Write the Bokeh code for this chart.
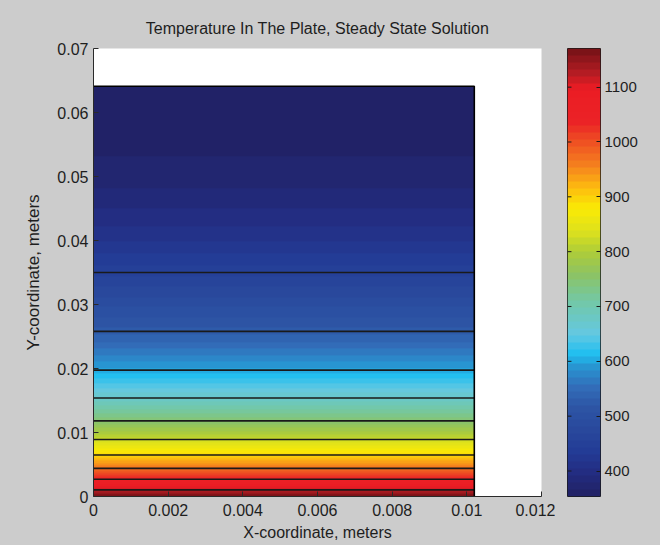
import numpy as np
from bokeh.plotting import figure
from bokeh.models import Range1d, FixedTicker, LinearColorMapper, LinearAxis
from bokeh.layouts import row
from bokeh.embed import file_html
from bokeh.resources import INLINE

# ---------------- data ----------------
TITLE = "Temperature In The Plate, Steady State Solution"
X_LABEL = "X-coordinate, meters"
Y_LABEL = "Y-coordinate, meters"

PLATE_WIDTH = 0.0102
PLATE_HEIGHT = 0.0641

# temperature along the plate height (almost uniform across x)
PROFILE_Y = [0.0, 0.00104, 0.00269, 0.00440, 0.00649, 0.00891, 0.01182,
             0.01540, 0.01975, 0.02580, 0.03500, 0.04100, 0.04640, 0.05120,
             0.06410]
PROFILE_T = [1170, 1120, 1046, 971, 897, 822, 748,
             674, 599, 525, 450, 410, 385, 368,
             356]

CONTOUR_LEVELS = [450, 525, 599, 674, 748, 822, 897, 971, 1046, 1120]

X_TICKS = [0, 0.002, 0.004, 0.006, 0.008, 0.01, 0.012]
X_TICK_LABELS = ["0", "0.002", "0.004", "0.006", "0.008", "0.01", "0.012"]
Y_TICKS = [0, 0.01, 0.02, 0.03, 0.04, 0.05, 0.06, 0.07]
Y_TICK_LABELS = ["0", "0.01", "0.02", "0.03", "0.04", "0.05", "0.06", "0.07"]
CBAR_TICKS = [400, 500, 600, 700, 800, 900, 1000, 1100]
CBAR_LOW = 353.5
CBAR_HIGH = 1170.5

# ---------------- style ----------------
FONT = "Liberation Sans"
TEXT_COLOR = "#1e1e1e"
FIG_BG = "#cccccc"
COLOR_STOPS = [
    (0.000, (33, 32, 98)), (0.055, (35, 45, 130)), (0.100, (35, 60, 150)),
    (0.140, (40, 70, 155)), (0.200, (45, 85, 165)), (0.245, (50, 110, 185)),
    (0.290, (40, 150, 210)), (0.317, (30, 190, 240)), (0.363, (100, 200, 225)),
    (0.437, (115, 200, 165)), (0.495, (140, 195, 100)), (0.547, (175, 205, 55)),
    (0.590, (220, 225, 30)), (0.642, (250, 235, 5)), (0.687, (253, 190, 15)),
    (0.737, (245, 130, 30)), (0.797, (238, 75, 35)), (0.835, (235, 35, 38)),
    (0.910, (235, 28, 36)), (0.945, (180, 28, 35)), (1.000, (115, 18, 22)),
]


def make_palette(n=64):
    fr = np.array([s[0] for s in COLOR_STOPS])
    rgb = np.array([s[1] for s in COLOR_STOPS], dtype=float)
    t = (np.arange(n) + 0.5) / n
    out = []
    for v in t:
        cc = [int(round(np.interp(v, fr, rgb[:, k]))) for k in range(3)]
        out.append("#%02x%02x%02x" % tuple(cc))
    return out


palette = make_palette(64)
mapper = LinearColorMapper(palette=palette, low=CBAR_LOW, high=CBAR_HIGH)

# ---------------- main plot ----------------
p = figure(width=555, height=545, x_range=Range1d(0, 0.012), y_range=Range1d(0, 0.07),
           output_backend="svg", toolbar_location=None,
           min_border_left=93, min_border_right=14, min_border_top=46, min_border_bottom=49,
           title=TITLE)
p.background_fill_color = "white"
p.border_fill_color = FIG_BG
p.outline_line_color = None
p.grid.visible = False

p.title.align = "center"
p.title.text_font = FONT
p.title.text_font_size = "16px"
p.title.text_font_style = "normal"
p.title.text_color = TEXT_COLOR
p.title.standoff = 24

# field
ny = 640
yc = (np.arange(ny) + 0.5) / ny * PLATE_HEIGHT
col = np.interp(yc, PROFILE_Y, PROFILE_T)
field = np.repeat(col[:, None], 2, axis=1)
p.image(image=[field], x=0, y=0, dw=PLATE_WIDTH, dh=PLATE_HEIGHT, color_mapper=mapper)

# contour lines
ys = np.interp(CONTOUR_LEVELS, PROFILE_T[::-1], PROFILE_Y[::-1])
p.segment(x0=[0] * len(ys), y0=ys, x1=[PLATE_WIDTH] * len(ys), y1=ys,
          line_color="#1a1a1a", line_width=1.6)

# plate border (top and right)
p.line(x=[0, PLATE_WIDTH, PLATE_WIDTH], y=[PLATE_HEIGHT, PLATE_HEIGHT, 0],
       line_color="black", line_width=1.6)

for ax, ticks, labels, lab in ((p.xaxis, X_TICKS, X_TICK_LABELS, X_LABEL),
                               (p.yaxis, Y_TICKS, Y_TICK_LABELS, Y_LABEL)):
    ax.ticker = FixedTicker(ticks=ticks)
    ax.major_label_overrides = {t: s for t, s in zip(ticks, labels)}
    ax.major_tick_in = 5
    ax.major_tick_out = 0
    ax.minor_tick_line_color = None
    ax.axis_line_color = "#2a2a2a"
    ax.major_tick_line_color = "#2a2a2a"
    ax.major_label_text_font = FONT
    ax.major_label_text_font_size = "16px"
    ax.major_label_text_color = TEXT_COLOR
    ax.axis_label = lab
    ax.axis_label_text_font = FONT
    ax.axis_label_text_font_style = "normal"
    ax.axis_label_text_color = TEXT_COLOR
p.xaxis.axis_label_text_font_size = "16px"
p.yaxis.axis_label_text_font_size = "17px"
p.xaxis.major_label_standoff = 7
p.xaxis.axis_label_standoff = 5
p.yaxis.major_label_standoff = 5
p.yaxis.axis_label_standoff = 11

# ---------------- colour bar ----------------
c = figure(width=105, height=545, x_range=Range1d(0, 1), y_range=Range1d(CBAR_LOW, CBAR_HIGH),
           output_backend="svg", toolbar_location=None,
           x_axis_type=None, y_axis_type=None,
           min_border_left=12, min_border_right=60, min_border_top=48, min_border_bottom=45)
c.background_fill_color = "white"
c.border_fill_color = FIG_BG
c.outline_line_color = "#1a1a1a"
c.outline_line_width = 1
c.grid.visible = False
bar = np.linspace(CBAR_LOW, CBAR_HIGH, 64 * 4)[:, None]
c.image(image=[bar], x=0, y=CBAR_LOW, dw=1, dh=CBAR_HIGH - CBAR_LOW, color_mapper=mapper)

# inner tick marks on the left edge of the colour bar
c.segment(x0=[0] * len(CBAR_TICKS), y0=CBAR_TICKS, x1=[0.12] * len(CBAR_TICKS), y1=CBAR_TICKS,
          line_color="#1a1a1a", line_width=1)

ax = LinearAxis(ticker=FixedTicker(ticks=CBAR_TICKS))
ax.major_tick_in = 4
ax.major_tick_out = 0
ax.minor_tick_line_color = None
ax.axis_line_color = None
ax.major_tick_line_color = "#1a1a1a"
ax.major_label_text_font = FONT
ax.major_label_text_font_size = "15px"
ax.major_label_text_color = TEXT_COLOR
ax.major_label_standoff = 4
c.add_layout(ax, "right")

layout = row(p, c, styles={"background-color": FIG_BG})
open("out.html", "w").write(file_html(layout, INLINE))
